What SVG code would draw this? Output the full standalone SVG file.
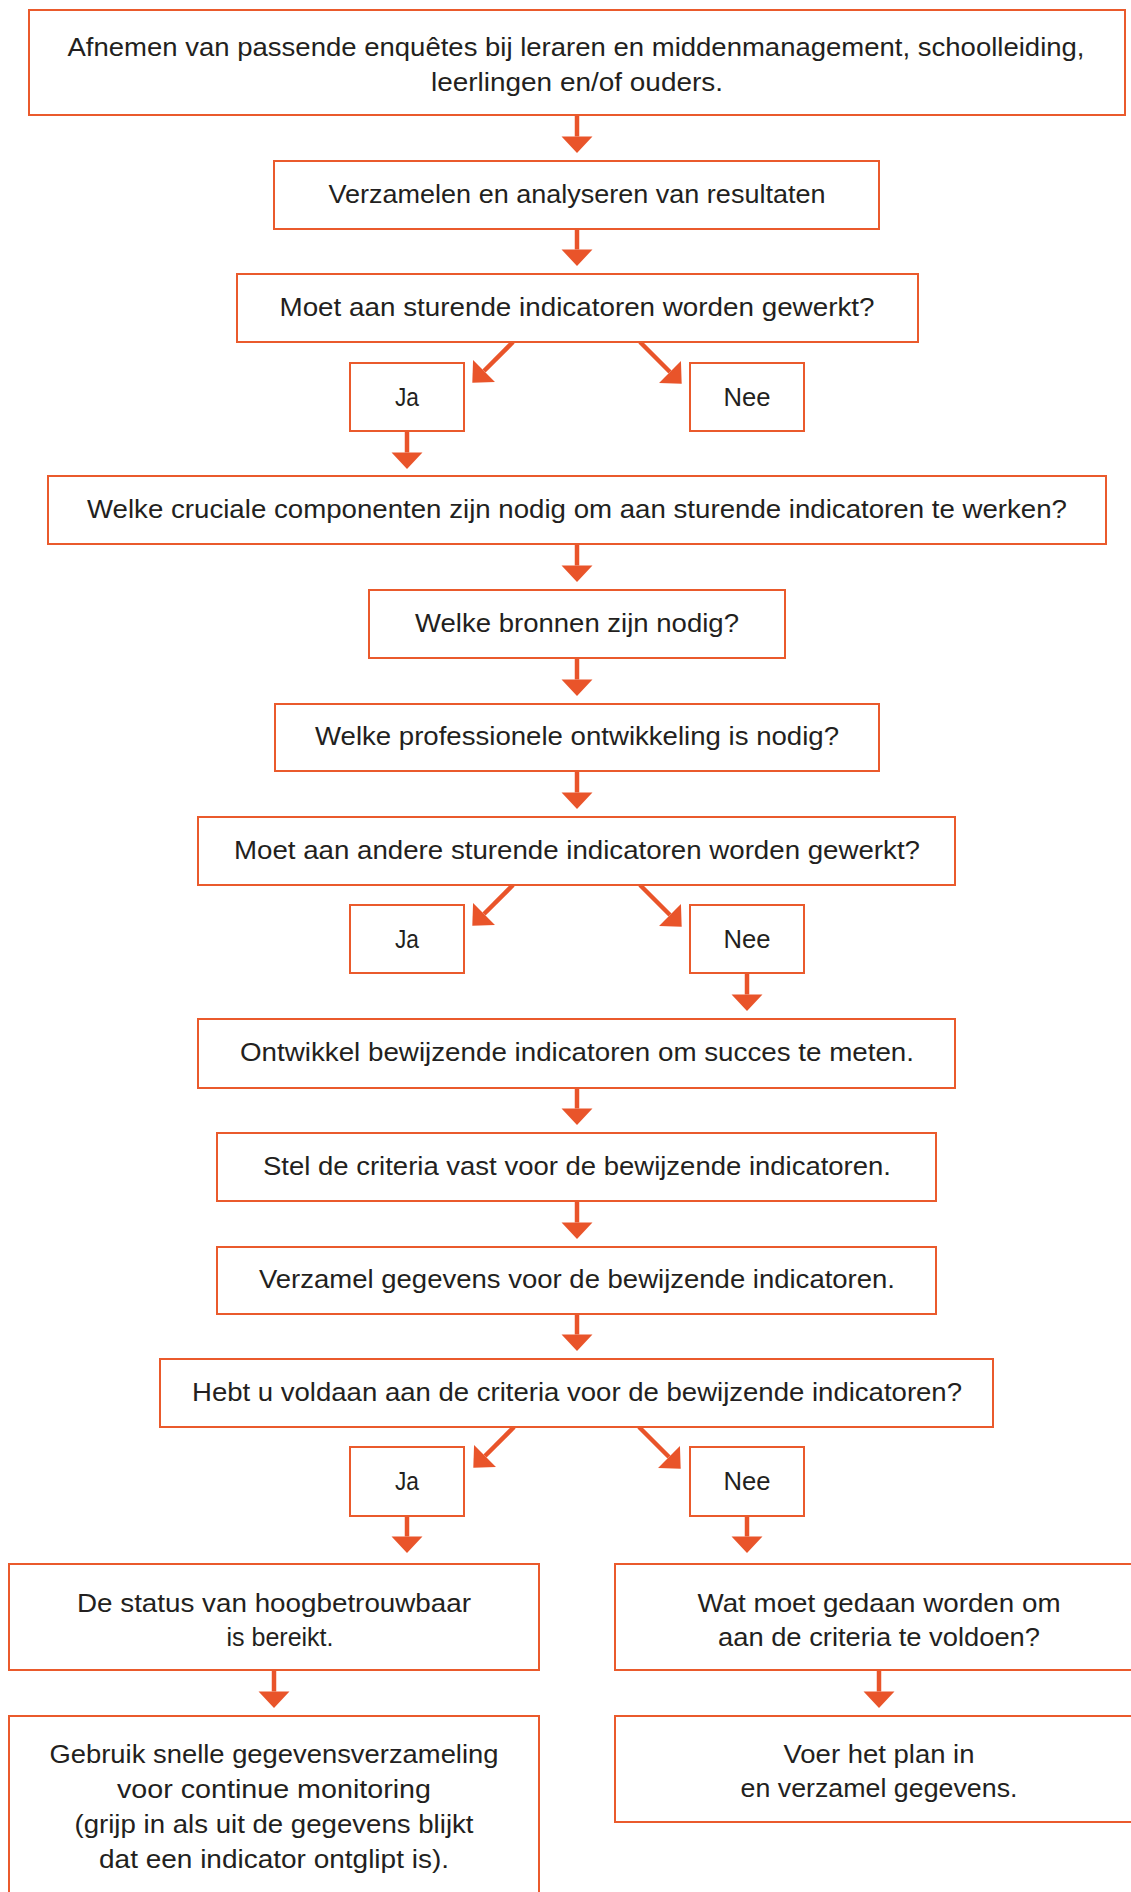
<svg xmlns="http://www.w3.org/2000/svg" width="1131" height="1892" viewBox="0 0 1131 1892">
<style>
  .box { fill: #ffffff; stroke: #EA5A2C; stroke-width: 2; }
  .t { font-family: "Liberation Sans", Arial, sans-serif; font-size: 26px; fill: #231F20; text-anchor: middle; }
  .arr { stroke: #E9542A; stroke-width: 4.5; fill: none; marker-end: url(#ah); }
</style>
<defs>
  <marker id="ah" markerUnits="userSpaceOnUse" markerWidth="20" markerHeight="32" viewBox="0 -15 16 30" refX="0" refY="0" orient="auto">
    <path d="M0,-14.5 L15.5,0 L0,14.5 Z" fill="#E9542A"/>
  </marker>
</defs>
<rect width="1131" height="1892" fill="#ffffff"/>

<g id="connectors">
  <line class="arr" x1="577" y1="115" x2="577" y2="136.5"/>
  <line class="arr" x1="577" y1="229" x2="577" y2="249.5"/>
  <line class="arr" x1="513" y1="342" x2="484" y2="371"/>
  <line class="arr" x1="640" y1="342" x2="670" y2="372"/>
  <line class="arr" x1="407" y1="431" x2="407" y2="452.5"/>
  <line class="arr" x1="577" y1="544" x2="577" y2="565.5"/>
  <line class="arr" x1="577" y1="658" x2="577" y2="679.5"/>
  <line class="arr" x1="577" y1="771" x2="577" y2="792.5"/>
  <line class="arr" x1="513" y1="885" x2="484" y2="914"/>
  <line class="arr" x1="640" y1="885" x2="670" y2="915"/>
  <line class="arr" x1="747" y1="973" x2="747" y2="994.5"/>
  <line class="arr" x1="577" y1="1088" x2="577" y2="1108.5"/>
  <line class="arr" x1="577" y1="1201" x2="577" y2="1222.5"/>
  <line class="arr" x1="577" y1="1314" x2="577" y2="1334.5"/>
  <line class="arr" x1="514" y1="1427" x2="485" y2="1456"/>
  <line class="arr" x1="639" y1="1427" x2="669" y2="1457"/>
  <line class="arr" x1="407" y1="1516" x2="407" y2="1536.5"/>
  <line class="arr" x1="747" y1="1516" x2="747" y2="1536.5"/>
  <line class="arr" x1="274" y1="1670" x2="274" y2="1691.5"/>
  <line class="arr" x1="879" y1="1670" x2="879" y2="1691.5"/>
</g>

<g id="n1">
  <rect class="box" x="29" y="10" width="1096" height="105"/>
  <text class="t" x="576" y="56" textLength="1017" lengthAdjust="spacingAndGlyphs">Afnemen van passende enquêtes bij leraren en middenmanagement, schoolleiding,</text>
  <text class="t" x="577" y="91" textLength="292" lengthAdjust="spacingAndGlyphs">leerlingen en/of ouders.</text>
</g>
<g id="n2">
  <rect class="box" x="274" y="161" width="605" height="68"/>
  <text class="t" x="577" y="202.5" textLength="497" lengthAdjust="spacingAndGlyphs">Verzamelen en analyseren van resultaten</text>
</g>
<g id="n3">
  <rect class="box" x="237" y="274" width="681" height="68"/>
  <text class="t" x="577" y="315.5" textLength="595" lengthAdjust="spacingAndGlyphs">Moet aan sturende indicatoren worden gewerkt?</text>
</g>
<g id="n3ja">
  <rect class="box" x="350" y="363" width="114" height="68"/>
  <text class="t" x="407" y="406" textLength="24" lengthAdjust="spacingAndGlyphs">Ja</text>
</g>
<g id="n3nee">
  <rect class="box" x="690" y="363" width="114" height="68"/>
  <text class="t" x="747" y="406" textLength="47" lengthAdjust="spacingAndGlyphs">Nee</text>
</g>
<g id="n4">
  <rect class="box" x="48" y="476" width="1058" height="68"/>
  <text class="t" x="577" y="517.5" textLength="980" lengthAdjust="spacingAndGlyphs">Welke cruciale componenten zijn nodig om aan sturende indicatoren te werken?</text>
</g>
<g id="n5">
  <rect class="box" x="369" y="590" width="416" height="68"/>
  <text class="t" x="577" y="631.5" textLength="324" lengthAdjust="spacingAndGlyphs">Welke bronnen zijn nodig?</text>
</g>
<g id="n6">
  <rect class="box" x="275" y="704" width="604" height="67"/>
  <text class="t" x="577" y="745" textLength="524" lengthAdjust="spacingAndGlyphs">Welke professionele ontwikkeling is nodig?</text>
</g>
<g id="n7">
  <rect class="box" x="198" y="817" width="757" height="68"/>
  <text class="t" x="577" y="858.5" textLength="686" lengthAdjust="spacingAndGlyphs">Moet aan andere sturende indicatoren worden gewerkt?</text>
</g>
<g id="n7ja">
  <rect class="box" x="350" y="905" width="114" height="68"/>
  <text class="t" x="407" y="948" textLength="24" lengthAdjust="spacingAndGlyphs">Ja</text>
</g>
<g id="n7nee">
  <rect class="box" x="690" y="905" width="114" height="68"/>
  <text class="t" x="747" y="948" textLength="47" lengthAdjust="spacingAndGlyphs">Nee</text>
</g>
<g id="n8">
  <rect class="box" x="198" y="1019" width="757" height="69"/>
  <text class="t" x="577" y="1061" textLength="674" lengthAdjust="spacingAndGlyphs">Ontwikkel bewijzende indicatoren om succes te meten.</text>
</g>
<g id="n9">
  <rect class="box" x="217" y="1133" width="719" height="68"/>
  <text class="t" x="577" y="1174.5" textLength="628" lengthAdjust="spacingAndGlyphs">Stel de criteria vast voor de bewijzende indicatoren.</text>
</g>
<g id="n10">
  <rect class="box" x="217" y="1247" width="719" height="67"/>
  <text class="t" x="577" y="1288" textLength="636" lengthAdjust="spacingAndGlyphs">Verzamel gegevens voor de bewijzende indicatoren.</text>
</g>
<g id="n11">
  <rect class="box" x="160" y="1359" width="833" height="68"/>
  <text class="t" x="577" y="1400.5" textLength="770" lengthAdjust="spacingAndGlyphs">Hebt u voldaan aan de criteria voor de bewijzende indicatoren?</text>
</g>
<g id="n11ja">
  <rect class="box" x="350" y="1447" width="114" height="69"/>
  <text class="t" x="407" y="1490" textLength="24" lengthAdjust="spacingAndGlyphs">Ja</text>
</g>
<g id="n11nee">
  <rect class="box" x="690" y="1447" width="114" height="69"/>
  <text class="t" x="747" y="1490" textLength="47" lengthAdjust="spacingAndGlyphs">Nee</text>
</g>
<g id="n12l">
  <rect class="box" x="9" y="1564" width="530" height="106"/>
  <text class="t" x="274" y="1612" textLength="394" lengthAdjust="spacingAndGlyphs">De status van hoogbetrouwbaar</text>
  <text class="t" x="280" y="1646" textLength="107" lengthAdjust="spacingAndGlyphs">is bereikt.</text>
</g>
<g id="n12r">
  <rect class="box" x="615" y="1564" width="530" height="106"/>
  <text class="t" x="879" y="1612" textLength="363" lengthAdjust="spacingAndGlyphs">Wat moet gedaan worden om</text>
  <text class="t" x="879" y="1646" textLength="322" lengthAdjust="spacingAndGlyphs">aan de criteria te voldoen?</text>
</g>
<g id="n13l">
  <rect class="box" x="9" y="1716" width="530" height="190"/>
  <text class="t" x="274" y="1763" textLength="449" lengthAdjust="spacingAndGlyphs">Gebruik snelle gegevensverzameling</text>
  <text class="t" x="274" y="1798" textLength="314" lengthAdjust="spacingAndGlyphs">voor continue monitoring</text>
  <text class="t" x="274" y="1833" textLength="399" lengthAdjust="spacingAndGlyphs">(grijp in als uit de gegevens blijkt</text>
  <text class="t" x="274" y="1868" textLength="350" lengthAdjust="spacingAndGlyphs">dat een indicator ontglipt is).</text>
</g>
<g id="n13r">
  <rect class="box" x="615" y="1716" width="530" height="106"/>
  <text class="t" x="879" y="1763" textLength="191" lengthAdjust="spacingAndGlyphs">Voer het plan in</text>
  <text class="t" x="879" y="1797" textLength="277" lengthAdjust="spacingAndGlyphs">en verzamel gegevens.</text>
</g>
</svg>
